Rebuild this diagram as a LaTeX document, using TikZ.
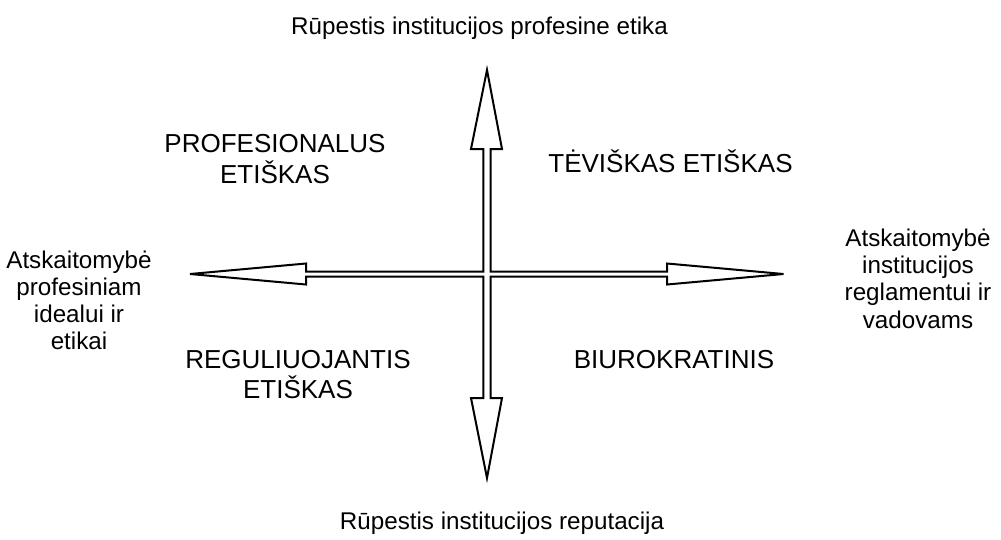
\documentclass[tikz,border=0pt]{standalone}
\usepackage{fontspec}
\setmainfont{Liberation Sans}
\begin{document}
\begin{tikzpicture}[x=1pt,y=-1pt,
  small/.style={font=\fontsize{24.2}{27}\selectfont, anchor=base, inner sep=0pt},
  big/.style={font=\fontsize{26}{30}\selectfont, anchor=base, inner sep=0pt},
  cross/.style={draw=black, line width=2pt, line join=miter, fill=white}]
\useasboundingbox (0,0) rectangle (1001,539);
\coordinate (c) at (487,274);
\draw[cross] (487,70) -- (502,149) -- (490.7,149) -- (490.7,271.5) -- (667,271.5) -- (667,263.5)
  -- (783.5,274) -- (667,284.5) -- (667,276.5) -- (490.7,276.5) -- (490.7,398) -- (502,398)
  -- (487,478) -- (471,398) -- (483.3,398) -- (483.3,276.5) -- (306,276.5) -- (306,284.5)
  -- (190,274) -- (306,263.5) -- (306,271.5) -- (483.3,271.5) -- (483.3,149) -- (471,149) -- cycle;
\node[small] (top) at (479.5,34) {Rūpestis institucijos profesine etika};
\node[small] (bottom) at (502,529) {Rūpestis institucijos reputacija};
\node[small] (left1) at (79,268) {Atskaitomybė};
\node[small] (left2) at (79,295) {profesiniam};
\node[small] (left3) at (79,322) {idealui ir};
\node[small] (left4) at (79,349) {etikai};
\node[small] (right1) at (918,246) {Atskaitomybė};
\node[small] (right2) at (918,273) {institucijos};
\node[small] (right3) at (918,300.5) {reglamentui ir};
\node[small] (right4) at (918,328) {vadovams};
\node[big] (pe1) at (275,152) {PROFESIONALUS};
\node[big] (pe2) at (275,183) {ETIŠKAS};
\node[big] (te) at (670.5,172) {TĖVIŠKAS ETIŠKAS};
\node[big] (re1) at (298,368) {REGULIUOJANTIS};
\node[big] (re2) at (298,398) {ETIŠKAS};
\node[big] (bi) at (674,368) {BIUROKRATINIS};
\end{tikzpicture}
\end{document}
